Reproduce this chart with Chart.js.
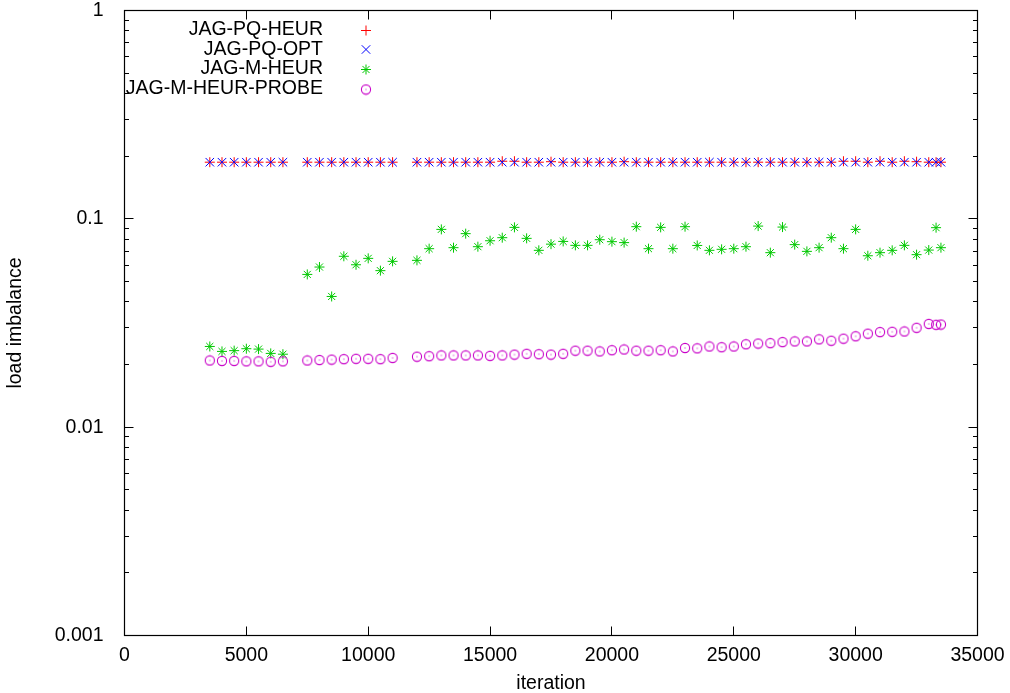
<!DOCTYPE html>
<html><head><meta charset="utf-8">
<script src="https://cdn.jsdelivr.net/npm/chart.js@4.4.1/dist/chart.umd.min.js"></script>
<style>html,body{margin:0;padding:0;background:#fff;}#wrap{width:1010px;height:693px;}</style>
</head><body><div id="wrap"><canvas id="c" width="1010" height="693"></canvas></div>
<script>
const iterations = [3500,4000,4500,5000,5500,6000,6500,
  7500,8000,8500,9000,9500,10000,10500,11000,
  12000,12500,13000,13500,14000,14500,15000,15500,16000,16500,
  17000,17500,18000,18500,19000,19500,20000,20500,21000,21500,
  22000,22500,23000,23500,24000,24500,25000,25500,26000,26500,
  27000,27500,28000,28500,29000,29500,30000,30500,31000,31500,
  32000,32500,33000,33300,33500];

const jagPqHeur = [0.187,0.187,0.187,0.187,0.187,0.187,0.187,
  0.187,0.187,0.187,0.187,0.187,0.187,0.187,0.187,
  0.187,0.187,0.187,0.187,0.187,0.187,0.187,0.189,0.189,0.187,
  0.187,0.188,0.187,0.187,0.187,0.187,0.187,0.188,0.187,0.187,
  0.187,0.187,0.187,0.187,0.187,0.187,0.187,0.187,0.187,0.187,
  0.187,0.187,0.187,0.187,0.187,0.189,0.189,0.187,0.189,0.187,
  0.189,0.188,0.187,0.187,0.187];

const jagPqOpt = [0.187,0.187,0.187,0.187,0.187,0.187,0.187,
  0.187,0.187,0.187,0.187,0.187,0.187,0.187,0.187,
  0.187,0.187,0.187,0.187,0.187,0.187,0.187,0.187,0.187,0.187,
  0.187,0.187,0.187,0.187,0.187,0.187,0.187,0.187,0.187,0.187,
  0.187,0.187,0.187,0.187,0.187,0.187,0.187,0.187,0.187,0.187,
  0.187,0.187,0.187,0.187,0.187,0.187,0.187,0.187,0.187,0.187,
  0.187,0.187,0.187,0.187,0.187];

const jagMHeur = [0.0244,0.0231,0.0233,0.0238,0.0237,0.0226,0.0224,
  0.0541,0.0587,0.0424,0.0661,0.0602,0.0646,0.0564,0.0625,
  0.0632,0.0719,0.0890,0.0727,0.0849,0.0735,0.0785,0.0812,0.0910,0.0806,
  0.0706,0.0756,0.0779,0.0746,0.0746,0.0794,0.0777,0.0769,0.0917,0.0719,
  0.0910,0.0719,0.0917,0.0745,0.0706,0.0714,0.0719,0.0735,0.0923,0.0688,
  0.0913,0.0752,0.0698,0.0727,0.0812,0.0719,0.0890,0.0665,0.0688,0.0706,
  0.0746,0.0673,0.0708,0.0907,0.0727];

const jagMHeurProbe = [0.0209,0.0208,0.0208,0.0207,0.0207,0.0206,0.0207,
  0.0209,0.0210,0.0211,0.0212,0.0213,0.0213,0.0212,0.0215,
  0.0218,0.0219,0.0221,0.0221,0.0221,0.0221,0.0220,0.0221,0.0223,0.0225,
  0.0224,0.0223,0.0225,0.0233,0.0233,0.0231,0.0234,0.0236,0.0233,0.0233,
  0.0234,0.0231,0.0240,0.0239,0.0244,0.0242,0.0244,0.0250,0.0252,0.0253,
  0.0256,0.0258,0.0258,0.0264,0.0260,0.0266,0.0273,0.0281,0.0286,0.0287,
  0.0288,0.0300,0.0313,0.0310,0.0311];

const seriesLabels = ['JAG-PQ-HEUR','JAG-PQ-OPT','JAG-M-HEUR','JAG-M-HEUR-PROBE'];
const xTickValues = [0,5000,10000,15000,20000,25000,30000,35000];
const xTickLabels = ['0','5000','10000','15000','20000','25000','30000','35000'];
const yTickValues = [0.001,0.01,0.1,1];
const yTickLabels = ['0.001','0.01','0.1','1'];
const xTitle = 'iteration';
const yTitle = 'load imbalance';

const FONT = '"Liberation Sans", Arial, Helvetica, sans-serif';
const FSIZE = 19.5;
const colors = ['#ff0000','#0000ff','#00c800','#c800c8'];

function circleDot(color){
  const c = document.createElement('canvas'); c.width = 12; c.height = 12;
  const g = c.getContext('2d');
  g.strokeStyle = color; g.lineWidth = 1.1;
  g.beginPath(); g.arc(6,6,4.6,0,Math.PI*2); g.stroke();
  g.fillStyle = color; g.fillRect(5.5,5.5,1,1);
  return c;
}
const circleImg = circleDot(colors[3]);

function pts(ys){ return iterations.map((x,i)=>({x:x,y:ys[i]})); }

const markerSpecs = [
  {style:'cross', r:5},
  {style:'crossRot', r:6},
  {style:'star', r:5},
  {style:circleImg, r:5}
];

function drawMarker(ctx, i, x, y){
  const col = colors[i];
  ctx.save();
  ctx.strokeStyle = col; ctx.fillStyle = col; ctx.lineWidth = 1;
  ctx.beginPath();
  if (i === 0) {
    ctx.moveTo(x-5,y); ctx.lineTo(x+5,y); ctx.moveTo(x,y-5); ctx.lineTo(x,y+5);
  } else if (i === 1) {
    const d = 4.24;
    ctx.moveTo(x-d,y-d); ctx.lineTo(x+d,y+d); ctx.moveTo(x-d,y+d); ctx.lineTo(x+d,y-d);
  } else if (i === 2) {
    const d = 3.54;
    ctx.moveTo(x-5,y); ctx.lineTo(x+5,y); ctx.moveTo(x,y-5); ctx.lineTo(x,y+5);
    ctx.moveTo(x-d,y-d); ctx.lineTo(x+d,y+d); ctx.moveTo(x-d,y+d); ctx.lineTo(x+d,y-d);
  }
  ctx.stroke();
  if (i === 3) ctx.drawImage(circleImg, x-6, y-6);
  ctx.restore();
}

const framePlugin = {
  id:'frame',
  beforeDatasetsDraw(chart){
    const {ctx, chartArea:a, scales} = chart;
    ctx.save();
    ctx.strokeStyle = '#000'; ctx.lineWidth = 1;
    ctx.beginPath();
    xTickValues.forEach(v=>{
      const px = Math.round(scales.x.getPixelForValue(v) - 0.5) + 0.5;
      ctx.moveTo(px, a.bottom); ctx.lineTo(px, a.bottom-9);
      ctx.moveTo(px, a.top); ctx.lineTo(px, a.top+9);
    });
    for (let e=-3; e<=0; e++){
      for (let m=1; m<=9; m++){
        const v = m*Math.pow(10,e);
        if (v > 1.0000001) break;
        const py = Math.round(scales.y.getPixelForValue(v) - 0.5) + 0.5;
        const len = (m===1) ? 9 : 4.5;
        ctx.moveTo(a.left, py); ctx.lineTo(a.left+len, py);
        ctx.moveTo(a.right, py); ctx.lineTo(a.right-len, py);
      }
    }
    ctx.stroke();
    ctx.lineWidth = 1.2;
    ctx.strokeRect(a.left, a.top, a.right-a.left, a.bottom-a.top);
    ctx.restore();
  },
  afterDatasetsDraw(chart){
    const ctx = chart.ctx;
    ctx.save();
    ctx.font = FSIZE + 'px ' + FONT;
    ctx.textAlign = 'right'; ctx.textBaseline = 'middle'; ctx.fillStyle = '#000';
    chart.data.datasets.forEach((ds,i)=>{
      const y = 29.5 + i*19.7;
      ctx.fillText(ds.label, 323, y);
      drawMarker(ctx, i, 366, Math.round(y)+0.5);
    });
    ctx.restore();
  }
};

Chart.defaults.font.family = FONT;
Chart.defaults.font.size = FSIZE;
Chart.defaults.color = '#000';

const series = [jagPqHeur, jagPqOpt, jagMHeur, jagMHeurProbe];
const datasets = series.map((ys,i)=>({
  label: seriesLabels[i],
  data: pts(ys),
  showLine: false,
  pointStyle: markerSpecs[i].style,
  pointRadius: markerSpecs[i].r,
  pointHoverRadius: markerSpecs[i].r,
  pointBorderWidth: 1,
  borderColor: colors[i],
  backgroundColor: colors[i],
  order: 4 - i
}));

new Chart(document.getElementById('c'), {
  type: 'scatter',
  data: { datasets },
  options: {
    responsive: false,
    devicePixelRatio: 1,
    animation: false,
    events: [],
    layout: { padding: { left: 0, top: 10.5, right: 32.5, bottom: 0 } },
    plugins: { legend: { display: false }, tooltip: { enabled: false } },
    scales: {
      x: {
        type: 'linear', min: 0, max: 35000,
        grid: { display: false }, border: { display: false },
        afterBuildTicks(s){ s.ticks = xTickValues.map(v=>({value:v})); },
        afterFit(s){ s.height = 57.5; },
        ticks: { autoSkip: false, maxRotation: 0, padding: 0,
          callback: (v,i)=> xTickLabels[i] },
        title: { display: true, text: xTitle, font: { size: FSIZE, lineHeight: 1 }, padding: { top: 0, bottom: 0 } }
      },
      y: {
        type: 'logarithmic', min: 0.001, max: 1,
        grid: { display: false }, border: { display: false },
        afterBuildTicks(s){ s.ticks = yTickValues.map(v=>({value:v})); },
        afterFit(s){ s.width = 124.5; s.paddingTop = 0; s.paddingBottom = 0; },
        ticks: { autoSkip: false, padding: 13,
          callback: (v,i)=> yTickLabels[i] },
        title: { display: true, text: yTitle, font: { size: FSIZE, lineHeight: 1 }, padding: { top: 6, bottom: 0 } }
      }
    }
  },
  plugins: [framePlugin]
});
</script>
</body></html>
